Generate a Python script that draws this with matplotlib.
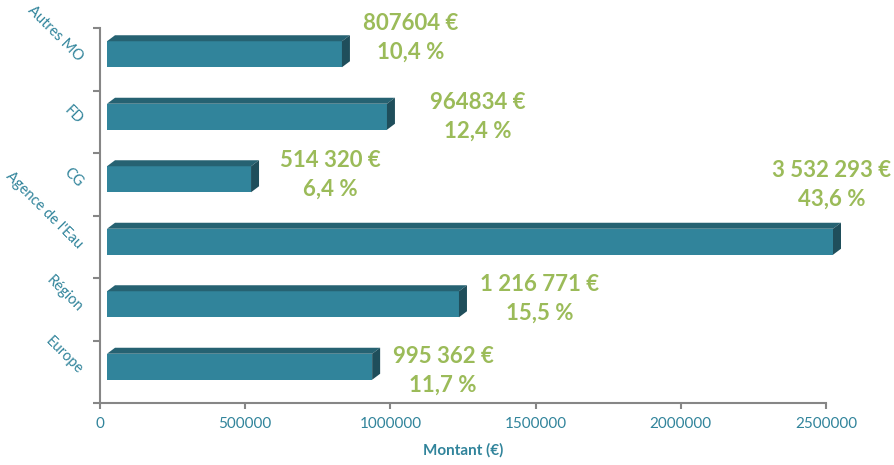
import matplotlib.pyplot as plt
from matplotlib.patches import Polygon

plt.rcParams['font.family'] = ['Lato', 'DejaVu Sans']

# bottom to top, as drawn by barh
categories = ["Europe", "Région", "Agence de l'Eau", "CG", "FD", "Autres MO"]
bar_values = [913000, 1212000, 3532293, 496000, 964000, 809000]
amount_labels = ["995 362 €", "1 216 771 €", "3 532 293 €", "514 320 €", "964834 €", "807604 €"]
share_labels = ["11,7 %", "15,5 %", "43,6 %", "6,4 %", "12,4 %", "10,4 %"]
x_ticks = [0, 500000, 1000000, 1500000, 2000000, 2500000]
x_max = 2500000

# where each label sits, in pixels from the end of its bar (manually placed in the original)
label_offsets = [(71, -4), (81, 5), (-1, 57), (79, 4), (91, 0), (69, 16)]

front_col = "#31849b"
top_col = "#266272"
side_col = "#1f4e5b"
green = "#9bbb59"
teal = "#31849b"
grey = "#868686"

fig = plt.figure(figsize=(8.94, 4.65), dpi=100)
W, H = 894, 465
ax = fig.add_axes([100 / W, 62 / H, 726 / W, 375 / H])
ax.set_xlim(0, x_max)
ax.set_ylim(-0.5, len(categories) - 0.5)

# pixel -> data conversions for the fake 3D look
px_x = x_max / 726.0
px_y = len(categories) / 375.0
x0 = 7 * px_x          # front face starts a bit right of the axis
depth_x = 8 * px_x
depth_y = 6 * px_y
face_h = 26 * px_y
lift = 5 * px_y

ys = [i + lift for i in range(len(categories))]
widths = [min(v, x_max) for v in bar_values]

bars = ax.barh(ys, widths, left=x0, height=face_h, color=front_col, zorder=3)
for b in bars:
    b.set_clip_on(False)

for y, w in zip(ys, widths):
    top = y + face_h / 2
    bot = y - face_h / 2
    right = x0 + w
    ax.add_patch(Polygon([(x0, top), (right, top), (right + depth_x, top + depth_y),
                          (x0 + depth_x, top + depth_y)], closed=True,
                         facecolor=top_col, edgecolor="none", zorder=3, clip_on=False))
    ax.add_patch(Polygon([(right, bot), (right, top), (right + depth_x, top + depth_y),
                          (right + depth_x, bot + depth_y)], closed=True,
                         facecolor=side_col, edgecolor="none", zorder=3, clip_on=False))

for y, w, amt, pct, off in zip(ys, widths, amount_labels, share_labels, label_offsets):
    ax.annotate(amt + "\n" + pct, xy=(x0 + w, y), xytext=off, textcoords="offset pixels",
                ha="center", va="center", multialignment="center", linespacing=1.45,
                fontsize=16, fontweight="bold", color=green, annotation_clip=False)

# axes styling
for s in ["top", "right"]:
    ax.spines[s].set_visible(False)
for s in ["left", "bottom"]:
    ax.spines[s].set_color(grey)
    ax.spines[s].set_linewidth(1.5)

ax.set_xticks(x_ticks)
ax.set_xticklabels([str(t) for t in x_ticks])
ax.tick_params(axis="x", length=4, width=1.5, color=grey, labelcolor=teal, labelsize=11, pad=6)

ax.set_yticks(range(len(categories)))
ax.set_yticklabels(categories)
ax.set_yticks([i - 0.5 for i in range(len(categories) + 1)], minor=True)
ax.tick_params(axis="y", which="major", length=0, labelcolor=teal, labelsize=10.5, pad=14)
ax.tick_params(axis="y", which="minor", length=5, width=1.5, color=grey)
for lbl in ax.get_yticklabels():
    lbl.set_rotation(-45)
    lbl.set_rotation_mode("anchor")
    lbl.set_ha("right")
    lbl.set_va("center")

ax.set_xlabel("Montant (€)", color=teal, fontsize=11, fontweight="bold", labelpad=9)

fig.savefig("out.png", dpi=100)
